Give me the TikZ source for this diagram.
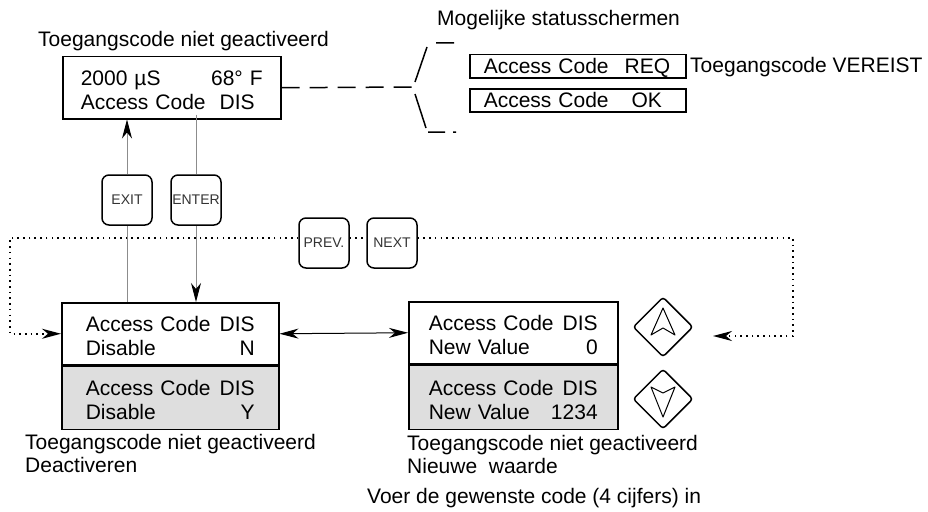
\documentclass[tikz,border=0pt]{standalone}
\usepackage{fontspec}
\setmainfont{Liberation Sans}
\usetikzlibrary{arrows.meta,positioning,shapes.geometric}

\begin{document}
\begin{tikzpicture}[x=1pt,y=-1pt,>={Stealth[length=19pt,width=10pt,inset=6pt]},
  font=\fontsize{21}{24}\selectfont,
  lcd/.style={draw,line width=1.5pt,minimum height=62pt,inner ysep=0pt,
    text height=20pt,text depth=24pt,align=left,anchor=north west},
  statusbox/.style={draw,line width=1.5pt,minimum height=23pt,inner xsep=14pt,inner ysep=0pt,
    text width=188pt,text height=15pt,text depth=0pt,align=left,anchor=north west},
  button/.style={draw,rounded corners=7pt,line width=1.5pt,minimum size=50pt,fill=white,
    inner sep=0pt,text=black!80,font=\fontsize{14}{14}\selectfont},
  arrowkey/.style={draw,diamond,minimum size=60pt,inner sep=0pt,line width=1.5pt,rounded corners=3pt},
  note/.style={inner sep=0pt,anchor=base west},
  twoline/.style={inner sep=0pt,anchor=north west,align=left,font=\fontsize{21}{22.7}\selectfont},
  feed/.style={draw=black!45,line width=1pt,>={Stealth[length=19pt,width=10pt,inset=6pt,color=black]}},
  dotline/.style={line width=1.6pt,dash pattern=on 1.6pt off 4.1pt},
  dashline/.style={line width=1.5pt,dash pattern=on 18pt off 10pt}]

  \useasboundingbox (0,0) rectangle (928,511);

  % main screen
  \node[note] (maintitle) at (38,47) {Toegangscode niet geactiveerd};
  \node[lcd,text width=182pt,inner xsep=18pt] (main) at (62,56)
    {2000 µS\hfill 68° F\\Access Code\hspace{14pt}DIS};

  % possible status lines
  \node[note] (statustitle) at (437,26) {Mogelijke statusschermen};
  \node[statusbox] (req) at (469,54) {Access Code\hspace{16pt}REQ};
  \node[statusbox] (ok) at (469,88) {Access Code\hspace{23pt}OK};
  \node[note] (reqnote) at (690,73) {Toegangscode VEREIST};

  % keys
  \node[button] (exit) at (127,200) {EXIT};
  \node[button] (enter) at (196,200) {ENTER};
  \node[button] (prev) at (324,243) {PREV.};
  \node[button] (next) at (392,243) {NEXT};
  \node[arrowkey] (up) at (663,327) {};
  \node[arrowkey] (down) at (663,399) {};

  % disable screens
  \node[lcd,text width=169pt,inner xsep=24pt] (dis) at (61,302)
    {Access Code\hfill DIS\\Disable\hfill N};
  \node[lcd,fill=black!13,text width=169pt,inner xsep=24pt,minimum height=63pt,
    below=0pt of dis] (disY) {Access Code\hfill DIS\\Disable\hfill Y};
  \node[twoline] (discap) at (25,434) {Toegangscode niet geactiveerd\\Deactiveren};

  % new value screens
  \node[lcd,text width=169pt,inner xsep=20pt] (new) at (408,301)
    {Access Code\hfill DIS\\New Value\hfill 0};
  \node[lcd,fill=black!13,text width=169pt,inner xsep=20pt,minimum height=64pt,
    below=0pt of new] (newval) {Access Code\hfill DIS\\New Value\hfill 1234};
  \node[twoline] (newcap) at (407,435) {Toegangscode niet geactiveerd\\Nieuwe\ \ waarde};
  \node[note] (hint) at (367,503) {Voer de gewenste code (4 cijfers) in};

  % arrows on the keys
  \draw[line width=1pt,line join=round] ([shift={(0,-19)}]up.center) -- ([shift={(-12,8)}]up.center)
    -- ([shift={(0,1)}]up.center) -- ([shift={(12,8)}]up.center) -- cycle;
  \draw[line width=1pt,line join=round] ([shift={(0,18)}]down.center) -- ([shift={(-12,-12)}]down.center)
    -- ([shift={(0,-6)}]down.center) -- ([shift={(12,-12)}]down.center) -- cycle;

  % EXIT / ENTER
  \draw[feed] (exit.south) -- (exit.south |- dis.north);
  \draw[feed,->] (exit.north) -- (exit.north |- main.south);
  \draw[feed] ([yshift=5pt]main.south -| enter) -- (enter.north);
  \draw[feed,->] (enter.south) -- (enter.south |- dis.north);
  \draw[line width=1pt,<->] (dis.east) -- (new.west);

  % PREV / NEXT loop
  \coordinate (lc) at (10,238);
  \coordinate (rc) at (793,238);
  \coordinate (upin) at (713,336);
  \draw[dotline,->] (lc -| prev.west) -- (lc) |- (dis.west);
  \draw[dotline] (lc -| prev.east) -- (lc -| next.west);
  \draw[dotline,->] (lc -| next.east) -- (rc) |- (upin);

  % status branch
  \coordinate (brace) at (413,87);
  \draw[dashline] (main.east) -- (brace);
  \draw[line width=1.5pt] (436,43) -- (454,43) (427,47) -- (415,82) (415,94) -- (426,128)
    (428,132) -- (445,132) (453,132) -- (456,132);
\end{tikzpicture}
\end{document}
